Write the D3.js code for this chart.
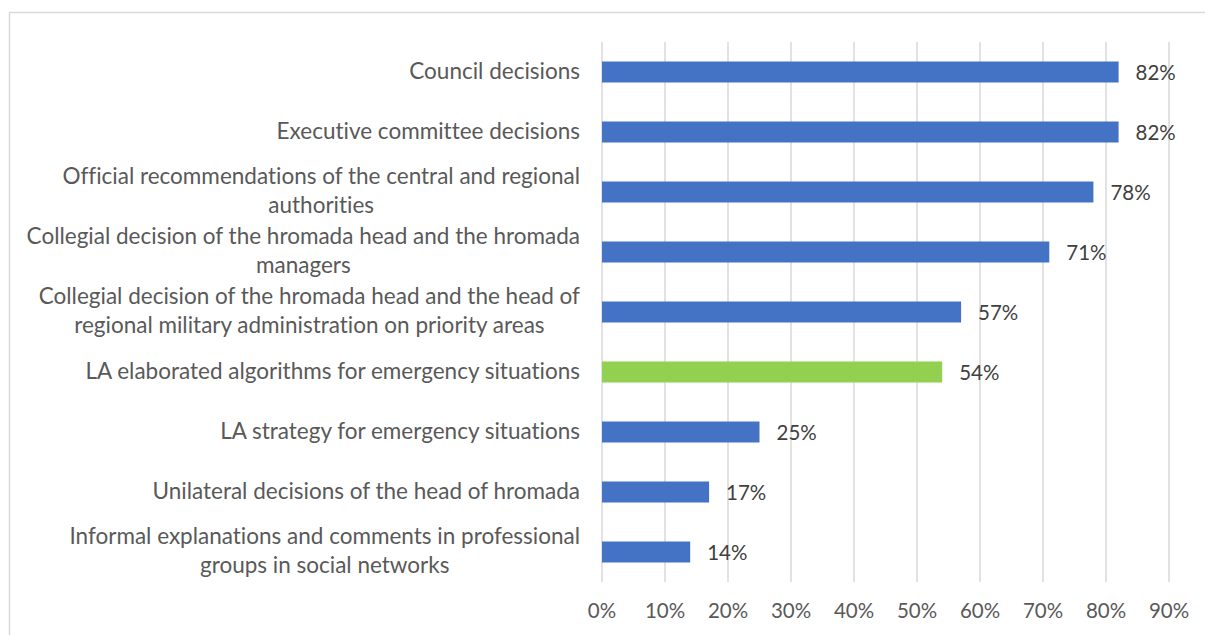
<!DOCTYPE html>
<html>
<head>
<meta charset="utf-8">
<script src="https://cdn.jsdelivr.net/npm/d3@7"></script>
<style>
  body { margin: 0; background: #fff; }
  text { font-family: Lato, "Open Sans", sans-serif; font-variant-ligatures: none; }
</style>
</head>
<body>
<div id="chart"></div>
<script>
// Data
var categories = [
    ["Council decisions"],
    ["Executive committee decisions"],
    ["Official recommendations of the central and regional", "authorities"],
    ["Collegial decision of the hromada head and the hromada", "managers"],
    ["Collegial decision of the hromada head and the head of", "regional military administration on priority areas"],
    ["LA elaborated algorithms for emergency situations"],
    ["LA strategy for emergency situations"],
    ["Unilateral decisions of the head of hromada"],
    ["Informal explanations and comments in professional", "groups in social networks"]
];
var values = [0.82, 0.82, 0.78, 0.71, 0.57, 0.54, 0.25, 0.17, 0.14];
var highlighted = [5];
var tickValues = [0, 0.1, 0.2, 0.3, 0.4, 0.5, 0.6, 0.7, 0.8, 0.9];

// General settings
var width = 1205;
var height = 635;
var plotLeft = 602, plotRight = 1169, plotTop = 42, plotBottom = 582;
var labelSize = 22.5;
var numberSize = 20.5;

var svg = d3.select("#chart")
    .append("svg")
    .attr("width", width)
    .attr("height", height);

// outer frame
svg.append("rect")
    .attr("x", 9.5).attr("y", 12.5)
    .attr("width", width + 20).attr("height", height + 20)
    .attr("fill", "none")
    .attr("stroke", "#d9d9d9")
    .attr("stroke-width", 1.5);

var x = d3.scaleLinear().domain([0, 0.9]).range([plotLeft, plotRight]);
var y = d3.scaleBand()
    .domain(d3.range(categories.length))
    .range([plotTop, plotBottom])
    .paddingInner(0.65)
    .paddingOuter(0.325);

// gridlines
svg.append("g").selectAll("line")
    .data(tickValues).enter()
    .append("line")
    .attr("x1", d => x(d)).attr("x2", d => x(d))
    .attr("y1", plotTop).attr("y2", plotBottom)
    .attr("stroke", "#d9d9d9")
    .attr("stroke-width", 1.5);

// tick labels
svg.append("g").selectAll("text")
    .data(tickValues).enter()
    .append("text")
    .attr("x", d => x(d))
    .attr("y", 611)
    .attr("dy", "0.35em")
    .attr("text-anchor", "middle")
    .attr("fill", "#595959")
    .style("font-size", numberSize + "px")
    .text(d3.format(".0%"));

// bars
svg.append("g").selectAll("rect")
    .data(values).enter()
    .append("rect")
    .attr("x", x(0))
    .attr("y", (d, i) => y(i))
    .attr("width", d => x(d) - x(0))
    .attr("height", y.bandwidth())
    .attr("fill", (d, i) => highlighted.indexOf(i) >= 0 ? "#92D050" : "#4472C4");

// data labels
svg.append("g").selectAll("text")
    .data(values).enter()
    .append("text")
    .attr("x", d => x(d) + 17)
    .attr("y", (d, i) => y(i) + y.bandwidth() / 2 + 1)
    .attr("dy", "0.35em")
    .attr("fill", "#404040")
    .style("font-size", numberSize + "px")
    .text(d3.format(".0%"));

// category labels, lines centred on each other, block right-aligned
var labelRight = 580;
var lineGap = 29;
var labelG = svg.append("g");
categories.forEach(function (lines, i) {
    var cy = y(i) + y.bandwidth() / 2 - 1;
    var g = labelG.append("g");
    var texts = g.selectAll("text")
        .data(lines).enter()
        .append("text")
        .attr("y", (d, j) => cy + (j - (lines.length - 1) / 2) * lineGap)
        .attr("dy", "0.35em")
        .attr("text-anchor", "middle")
        .attr("fill", "#595959")
        .style("font-size", labelSize + "px")
        .text(d => d);
    var maxW = d3.max(texts.nodes(), n => n.getComputedTextLength());
    texts.attr("x", labelRight - maxW / 2);
});
</script>
</body>
</html>
